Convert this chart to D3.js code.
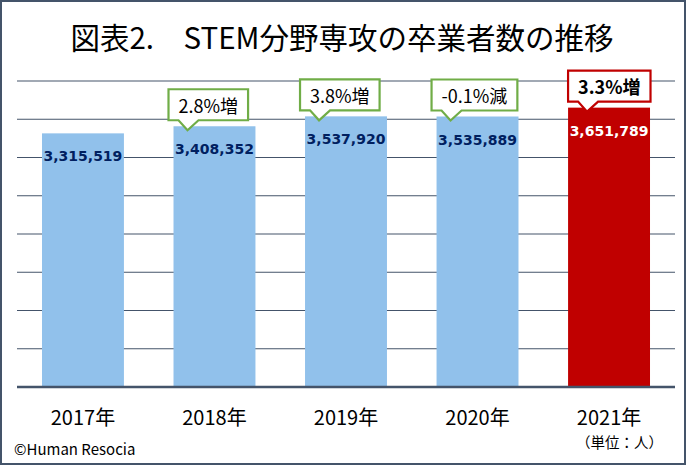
<!DOCTYPE html>
<html>
<head>
<meta charset="utf-8">
<script src="https://cdn.jsdelivr.net/npm/d3@7"></script>
<style>
  body { margin: 0; background: #fff; }
  svg { display: block; }
</style>
</head>
<body>
<svg id="chart" width="686" height="465"></svg>
<script>
// Chart data
const years = ["2017年", "2018年", "2019年", "2020年", "2021年"];
const graduates = [3315519, 3408352, 3537920, 3535889, 3651789];
const changeLabels = [null, "2.8%増", "3.8%増", "-0.1%減", "3.3%増"];
const yTicks = [0, 500000, 1000000, 1500000, 2000000, 2500000, 3000000, 3500000, 4000000];

const jpFont = "'Noto Sans CJK JP', 'Noto Sans', sans-serif";
const lineColor = "#44546a";

const svg = d3.select("#chart");

// outer frame
svg.append("rect")
    .attr("x", 1).attr("y", 1)
    .attr("width", 684).attr("height", 463)
    .attr("fill", "#fff")
    .attr("stroke", lineColor)
    .attr("stroke-width", 2);

// title
svg.append("text")
    .attr("x", 342).attr("y", 49)
    .attr("text-anchor", "middle")
    .attr("font-family", jpFont)
    .attr("font-size", 29.5)
    .attr("fill", "#000")
    .text("図表2.　STEM分野専攻の卒業者数の推移");

const x = d3.scaleBand()
    .domain(years)
    .range([17, 675])
    .paddingInner(0.377)
    .paddingOuter(0.19);

const y = d3.scaleLinear()
    .domain([0, 4000000])
    .range([387, 81]);

// gridlines
svg.append("g")
    .selectAll("line")
    .data(yTicks.filter(d => d > 0))
    .enter()
    .append("line")
    .attr("x1", 17).attr("x2", 675)
    .attr("y1", d => y(d)).attr("y2", d => y(d))
    .attr("stroke", lineColor)
    .attr("stroke-width", 1.2);

// bars
const data = years.map((yr, i) => ({ year: yr, value: graduates[i], change: changeLabels[i], last: i === years.length - 1 }));

svg.append("g")
    .selectAll("rect")
    .data(data)
    .enter()
    .append("rect")
    .attr("x", d => x(d.year))
    .attr("width", x.bandwidth())
    .attr("y", d => y(d.value))
    .attr("height", d => y(0) - y(d.value))
    .attr("fill", d => d.last ? "#c00000" : "#91c1eb");

// baseline
svg.append("line")
    .attr("x1", 17).attr("x2", 675)
    .attr("y1", y(0)).attr("y2", y(0))
    .attr("stroke", lineColor)
    .attr("stroke-width", 2.5);

// value labels
svg.append("g")
    .selectAll("text")
    .data(data)
    .enter()
    .append("text")
    .attr("x", d => x(d.year) + x.bandwidth() / 2)
    .attr("y", d => y(d.value) + 23)
    .attr("dominant-baseline", "central")
    .attr("text-anchor", "middle")
    .attr("font-family", "'DejaVu Sans', Verdana, sans-serif")
    .attr("font-weight", "bold")
    .attr("font-size", 14)
    .attr("fill", d => d.last ? "#fff" : "#002060")
    .text(d => d3.format(",")(d.value));

// year labels
svg.append("g")
    .selectAll("text")
    .data(years)
    .enter()
    .append("text")
    .attr("x", d => x(d) + x.bandwidth() / 2)
    .attr("y", 425)
    .attr("text-anchor", "middle")
    .attr("font-family", jpFont)
    .attr("font-size", 20)
    .attr("fill", "#000")
    .text(d => d);

// callouts
const callouts = svg.append("g")
    .selectAll("g")
    .data(data.filter(d => d.change))
    .enter()
    .append("g");

callouts.each(function(d) {
    const g = d3.select(this);
    const txt = g.append("text")
        .attr("font-family", jpFont)
        .attr("font-size", 18)
        .attr("font-weight", d.last ? "bold" : "normal")
        .attr("fill", "#000")
        .attr("text-anchor", "middle")
        .attr("dominant-baseline", "central")
        .text(d.change);
    const tw = txt.node().getComputedTextLength();
    const w = tw + 20, h = 31;
    const left = x(d.year) - (d.last ? 0 : 5);
    const bottom = y(d.value) - 6;
    const top = bottom - h;
    const path = [
        [left, top], [left + w, top], [left + w, bottom],
        [left + 30, bottom], [left + 19, bottom + 10], [left + 10, bottom],
        [left, bottom]
    ];
    g.insert("path", "text")
        .attr("d", d3.line()(path) + "Z")
        .attr("fill", "#fff")
        .attr("stroke", d.last ? "#c00000" : "#70ad47")
        .attr("stroke-width", 2.2)
        .attr("stroke-linejoin", "miter");
    txt.attr("x", left + w / 2).attr("y", top + h / 2);
});

// footer
svg.append("text")
    .attr("x", 14).attr("y", 455)
    .attr("font-family", jpFont)
    .attr("font-size", 15)
    .attr("fill", "#000")
    .text("©Human Resocia");

svg.append("text")
    .attr("x", 663).attr("y", 448)
    .attr("text-anchor", "end")
    .attr("font-family", jpFont)
    .attr("font-size", 14.5)
    .attr("fill", "#000")
    .text("（単位：人）");
</script>
</body>
</html>
